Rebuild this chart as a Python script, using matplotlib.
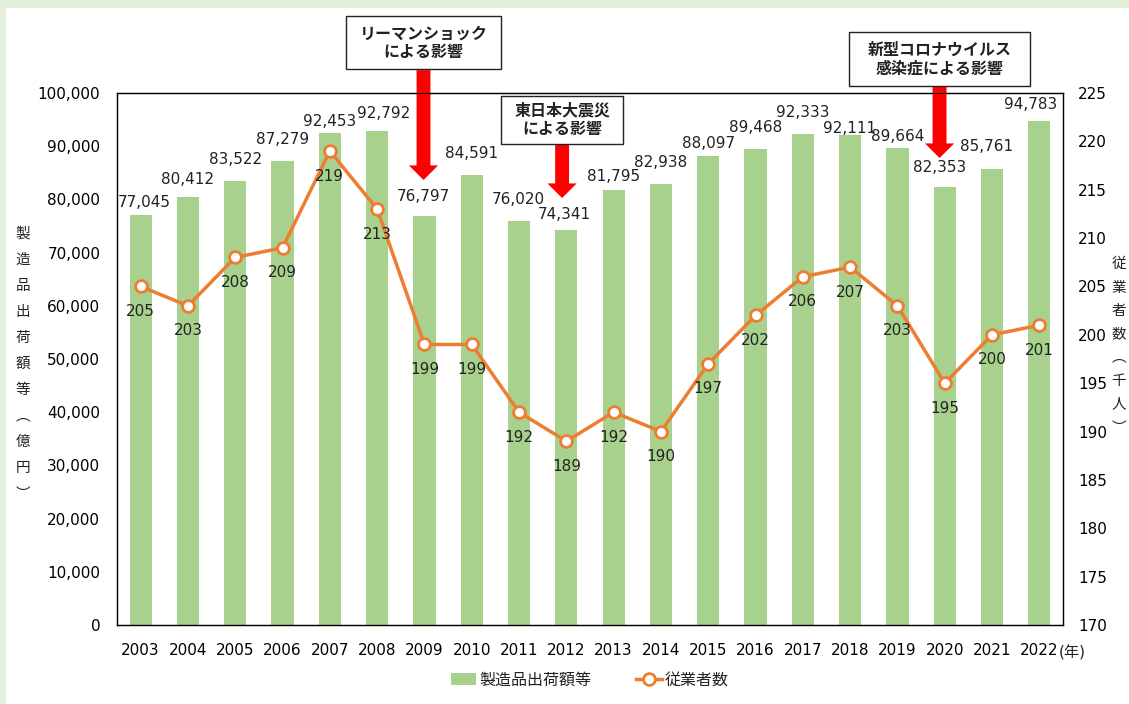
import matplotlib
matplotlib.use('Agg')
import matplotlib.pyplot as plt
from matplotlib.patches import Rectangle

plt.rcParams['font.family'] = ['DejaVu Sans', 'Noto Sans CJK JP']
plt.rcParams['text.color'] = '#222222'
JP = ['Noto Sans CJK JP', 'DejaVu Sans']

years = ['2003', '2004', '2005', '2006', '2007', '2008', '2009', '2010', '2011', '2012',
         '2013', '2014', '2015', '2016', '2017', '2018', '2019', '2020', '2021', '2022']
shipments = [77045, 80412, 83522, 87279, 92453, 92792, 76797, 84591, 76020, 74341,
             81795, 82938, 88097, 89468, 92333, 92111, 89664, 82353, 85761, 94783]
employees = [205, 203, 208, 209, 219, 213, 199, 199, 192, 189,
             192, 190, 197, 202, 206, 207, 203, 195, 200, 201]

# label nudges in pixels (dx, height of label centre above bar top)
bar_label_pos = [(4, 13), (0, 18), (0, 21), (0, 21), (0, 12), (6, 18), (-1, 20), (0, 21),
                 (-1, 21), (-2, 15), (0, 13), (0, 21), (0, 13), (0, 22), (0, 21), (-1, 6),
                 (0, 11), (-5, 19), (-5, 22), (-9, 16)]

# event notes: year index, text, box x shift, box width (x units), box centre y, box height,
# arrow start y, arrow tip y (left-axis units)
events = [
    (6, 'リーマンショック\nによる影響', -0.02, 3.28, 109500, 9960, 104300, 83650),
    (9, '東日本大震災\nによる影響', -0.09, 2.58, 94920, 9020, 90400, 80260),
    (17, '新型コロナウイルス\n感染症による影響', -0.11, 3.83, 106400, 10150, 101300, 87780),
]

bar_color = '#A9D18E'
line_color = '#ED7D31'

fig = plt.figure(figsize=(11.29, 7.04), dpi=100, facecolor='#E2EFDA')
fig.patches.append(Rectangle((6 / 1129, 0), 1, 1 - 8 / 704, transform=fig.transFigure,
                             facecolor='white', edgecolor='none', zorder=-10))

ax = fig.add_axes([117 / 1129, 1 - 625 / 704, (1063 - 117) / 1129, (625 - 93) / 704])
ax.set_facecolor('white')
x = list(range(len(years)))

ax.bar(x, shipments, width=0.47, color=bar_color, label='製造品出荷額等', zorder=2)
ax.set_ylim(0, 100000)
ax.set_xlim(-0.5, len(years) - 0.5)
ax.set_yticks(range(0, 100001, 10000))
ax.set_yticklabels([f'{v:,}' for v in range(0, 100001, 10000)], fontsize=11)
ax.set_xticks(x)
ax.set_xticklabels(years, fontsize=11)
ax.tick_params(axis='y', length=0, pad=12)
ax.tick_params(axis='x', length=0, pad=13)
for s in ax.spines.values():
    s.set_color('#222222')
    s.set_linewidth(1.0)

for i, v in enumerate(shipments):
    dx, dy = bar_label_pos[i]
    ax.annotate(f'{v:,}', (i, v), xytext=(dx * 0.72, dy * 0.72), textcoords='offset points',
                ha='center', va='center', fontsize=11)

ax2 = ax.twinx()
ax2.plot(x, employees, color=line_color, lw=2.5, marker='o', ms=8.5,
         mfc='white', mec=line_color, mew=2, label='従業者数', zorder=3)
ax2.set_ylim(170, 225)
ax2.set_yticks(range(170, 226, 5))
ax2.set_yticklabels([str(v) for v in range(170, 226, 5)], fontsize=11)
ax2.tick_params(length=0, pad=11)
for i, v in enumerate(employees):
    ax2.annotate(str(v), (i, v), xytext=(0, -18), textcoords='offset points',
                 ha='center', va='center', fontsize=11)

for idx, txt, shift, bw, yc, bh, y0, y1 in events:
    cx = idx + shift
    ax.annotate('', xy=(cx, y1), xytext=(cx, y0), annotation_clip=False, zorder=6,
                arrowprops=dict(facecolor='#FF0000', edgecolor='none', width=10,
                                headwidth=21, headlength=10.5, shrink=0))
    ax.add_patch(Rectangle((cx - bw / 2, yc - bh / 2), bw, bh, facecolor='white',
                           edgecolor='#222222', lw=1, clip_on=False, zorder=7))
    ax.text(cx, yc, txt, ha='center', va='center', fontsize=11.5, fontweight='bold',
            family=JP, linespacing=1.2, clip_on=False, zorder=8)

ax.annotate('(年)', (len(years) - 1, 0), xytext=(14, -20), textcoords='offset points',
            ha='left', va='center', fontsize=11, annotation_clip=False)

left_label = ['製', '造', '品', '出', '荷', '額', '等', '︵', '億', '円', '︶']
fig.text(23 / 1129, 1 - 364 / 704, '\n'.join(left_label), ha='center', va='center',
         fontsize=10.5, family=JP, linespacing=2.1)
right_label = ['従', '業', '者', '数', '︵', '千', '人', '︶']
fig.text(1119 / 1129, 1 - 346 / 704, '\n'.join(right_label), ha='center', va='center',
         fontsize=10.5, family=JP, linespacing=1.85)

h1, l1 = ax.get_legend_handles_labels()
h2, l2 = ax2.get_legend_handles_labels()
fig.legend(h1 + h2, l1 + l2, loc='center', bbox_to_anchor=(590 / 1129, 1 - 680 / 704), ncol=2,
           frameon=False, prop={'family': JP, 'size': 11.5}, columnspacing=2.8,
           handlelength=1.6, handletextpad=0.2)

fig.savefig('out.png', dpi=100, facecolor=fig.get_facecolor())
